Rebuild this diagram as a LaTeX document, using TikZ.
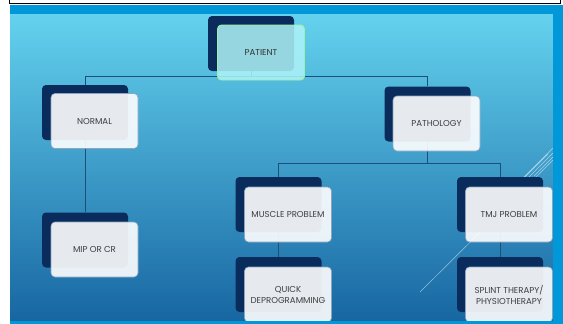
\documentclass[tikz,border=0pt]{standalone}
\usepackage{fontspec}
\setmainfont{Poppins}
\definecolor{frameblue}{HTML}{0098D8}
\definecolor{slidetop}{HTML}{64D2EE}
\definecolor{slidemid}{HTML}{3AA8D3}
\definecolor{slidebot}{HTML}{1766A2}
\definecolor{navy}{HTML}{0A2C5C}
\definecolor{linkblue}{HTML}{1E4F78}
\definecolor{cardedge}{HTML}{8CA4BF}
\definecolor{cardtext}{HTML}{3E3E3E}
\definecolor{rootfill}{HTML}{AEF4F8}
\definecolor{rootedge}{HTML}{9EF0A8}
\begin{document}
\begin{tikzpicture}[x=1pt,y=-1pt,
  navybox/.style={rectangle, rounded corners=4pt, fill=navy,
    minimum width=86pt, minimum height=55pt, inner sep=0pt},
  card/.style={rectangle, rounded corners=4pt, fill=white, fill opacity=0.9,
    text opacity=1, draw=cardedge, line width=0.6pt,
    minimum width=87pt, minimum height=55pt, inner sep=1pt, align=center,
    text=cardtext, font=\fontsize{8.6}{11}\selectfont},
  rootcard/.style={card, fill=rootfill, fill opacity=0.85, draw=rootedge,
    line width=0.9pt, text=black!80},
  link/.style={draw=linkblue, line width=0.8pt},
  streak/.style={draw=white, opacity=0.55, line width=0.5pt}]
\useasboundingbox (0,0) rectangle (563,324);
\fill[white] (0,0) rectangle (563,324);

% frame and slide background
\fill[frameblue] (10,5) rectangle (563,324);
\shade[top color=slidetop, middle color=slidemid, bottom color=slidebot]
  (10,14) rectangle (553,321);
\draw[white, opacity=0.5, line width=0.6pt] (553,14) -- (553,321);
\draw[black, line width=1.3pt] (9.5,-3) -- (9.5,3.5) -- (560.5,3.5) -- (560.5,-3);

% decorative streaks
\draw[streak] (553,160) -- (420,292);
\draw[streak] (553,148) -- (524,177);
\draw[streak] (553,153) -- (529,177);
\draw[streak] (553,157) -- (534,176);
\draw[streak] (548,154) -- (520,182);

% dark back plates
\node[navybox] (patient-n)   at (251,43.5)   {};
\node[navybox] (normal-n)    at (85,112.5)   {};
\node[navybox] (pathology-n) at (427.5,114)  {};
\node[navybox] (mip-n)       at (85,240)     {};
\node[navybox] (muscle-n)    at (278.5,204.5){};
\node[navybox] (quick-n)     at (278.5,284.5){};
\node[navybox] (tmj-n)       at (500,204.5)  {};
\node[navybox] (splint-n)    at (500,284.5)  {};

% connectors
\draw[link] (patient-n.south) -- ++(0,5) coordinate (bus1) -| (normal-n.north);
\draw[link] (bus1) -| (pathology-n.north);
\draw[link] (normal-n.south) -- (mip-n.north);
\draw[link] (pathology-n.south) -- ++(0,22) coordinate (bus2) -| (muscle-n.north);
\draw[link] (bus2) -| (tmj-n.north);
\draw[link] (muscle-n.south) -- (quick-n.north);
\draw[link] (tmj-n.south) -- (splint-n.north);

% front cards
\node[rootcard] (patient)   at (261,52.5)  {PATIENT};
\node[card]     (normal)    at (94.5,121)  {NORMAL};
\node[card]     (pathology) at (436.5,123.5) {PATHOLOGY};
\node[card]     (mip)       at (94.5,249.5) {MIP OR CR};
\node[card]     (muscle)    at (288,214.5) {MUSCLE PROBLEM};
\node[card]     (quick)     at (288,294.5) {QUICK\\DEPROGRAMMING};
\node[card]     (tmj)       at (509,214.5) {TMJ PROBLEM};
\node[card]     (splint)    at (509,294.5) {SPLINT THERAPY/\\PHYSIOTHERAPY};

% bottom and right edges of the frame over the cards
\fill[frameblue] (10,321) rectangle (563,324);
\fill[frameblue] (553,14) rectangle (563,324);
\end{tikzpicture}
\end{document}
